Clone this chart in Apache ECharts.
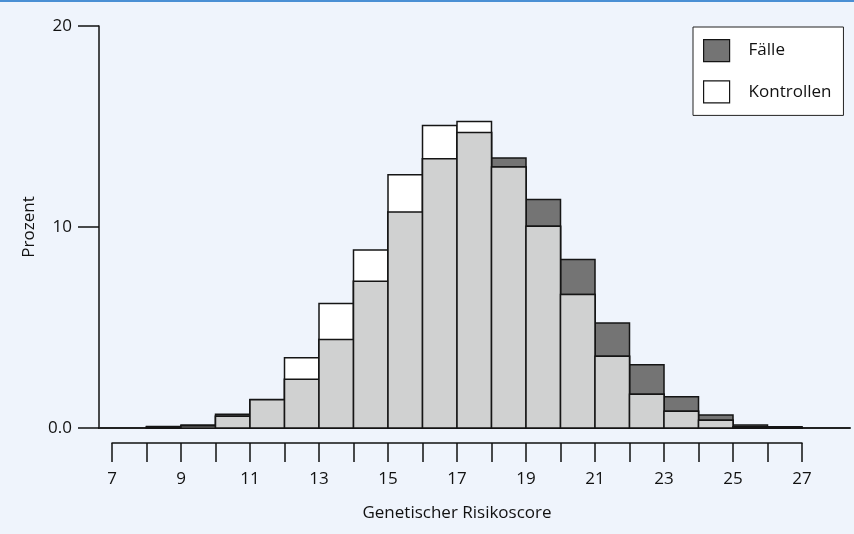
<!DOCTYPE html>
<html>
<head>
<meta charset="utf-8">
<script src="https://cdn.jsdelivr.net/npm/echarts@6/dist/echarts.min.js"></script>
<style>
html,body{margin:0;padding:0;background:#eff4fc;}
#chart{width:854px;height:534px;}
</style>
</head>
<body>
<div id="chart"></div>
<script>
// Histogram bins: lower edges of unit-wide bins of "Genetischer Risikoscore"
const binStarts = [7,8,9,10,11,12,13,14,15,16,17,18,19,20,21,22,23,24,25,26];
// Percent per bin
const faelle     = [0, 0.08, 0.15, 0.68, 1.40, 2.42, 4.40, 7.30, 10.75, 13.40, 14.70, 13.43, 11.37, 8.38, 5.23, 3.15, 1.56, 0.65, 0.15, 0.06];
const kontrollen = [0, 0.05, 0.10, 0.58, 1.42, 3.50, 6.20, 8.85, 12.60, 15.05, 15.25, 12.98, 10.04, 6.64, 3.57, 1.68, 0.83, 0.38, 0.06, 0.02];
const xTickLabels = ['7','9','11','13','15','17','19','21','23','25','27'];
const yTickLabels = {0:'0.0', 10:'10', 20:'20'};

const FONT = '"Open Sans", "Noto Sans", sans-serif';
const FS = 17;
const C_DARK = '#747474', C_LIGHT = '#d0d1d1', C_WHITE = '#ffffff', C_EDGE = '#151515';

function toData(vals){ return binStarts.map((s,i)=>[s, s+1, vals[i]]); }
const overlap = faelle.map((v,i)=>Math.min(v, kontrollen[i]));

function makeRender(fill){
  return function(params, api){
    const v = api.value(2);
    if (!(v > 0)) return;
    const p0 = api.coord([api.value(0), v]);
    const p1 = api.coord([api.value(1), 0]);
    return {
      type:'rect',
      shape:{x:p0[0], y:p0[1], width:p1[0]-p0[0], height:p1[1]-p0[1]},
      style:{fill:fill, stroke:C_EDGE, lineWidth:1.5}
    };
  };
}

const chart = echarts.init(document.getElementById('chart'), null, {renderer:'canvas'});
chart.setOption({
  backgroundColor:'#eff4fc',
  animation:false,
  textStyle:{fontFamily:FONT},
  graphic:[{type:'rect', left:0, top:0, shape:{width:854, height:2}, style:{fill:'#4a8fd4'}, silent:true}],
  legend:{
    orient:'vertical', left:693, top:27,
    padding:[12,12,12,10], itemGap:18,
    itemWidth:26, itemHeight:22, icon:'rect',
    backgroundColor:'#ffffff', borderColor:'#222', borderWidth:1,
    selectedMode:false,
    textStyle:{fontFamily:FONT, fontSize:FS, color:'#111', padding:[0,0,0,14]},
    data:[
      {name:'Fälle', itemStyle:{color:C_DARK, borderColor:C_EDGE, borderWidth:1.2}},
      {name:'Kontrollen', itemStyle:{color:C_WHITE, borderColor:C_EDGE, borderWidth:1.2}}
    ]
  },
  grid:[
    {left:99, right:4, top:26, bottom:106, containLabel:false},
    {left:112, right:52, top:300, bottom:91, containLabel:false}
  ],
  xAxis:[
    {type:'value', gridIndex:0, min:6.6232, max:28.391,
     axisLine:{show:true, onZero:false, lineStyle:{color:'#222', width:2}},
     axisTick:{show:false}, axisLabel:{show:false}, splitLine:{show:false}},
    {type:'value', gridIndex:1, min:7, max:27, interval:1,
     axisLine:{show:true, lineStyle:{color:'#111', width:1.5}},
     axisTick:{show:true, length:19, lineStyle:{color:'#111', width:1.5}},
     axisLabel:{margin:28, fontSize:FS, color:'#111', fontFamily:FONT,
       formatter:v=>xTickLabels.indexOf(String(v))>=0 ? String(v) : ''},
     splitLine:{show:false},
     name:'Genetischer Risikoscore', nameLocation:'middle', nameGap:62,
     nameTextStyle:{fontSize:FS, color:'#111', fontFamily:FONT}}
  ],
  yAxis:[
    {type:'value', gridIndex:0, min:0, max:20, interval:10,
     axisLine:{show:true, lineStyle:{color:'#111', width:1.5}},
     axisTick:{show:true, length:21, lineStyle:{color:'#111', width:1.5}},
     axisLabel:{margin:27, fontSize:FS, color:'#111', fontFamily:FONT,
       formatter:v=>yTickLabels[v] !== undefined ? yTickLabels[v] : ''},
     splitLine:{show:false},
     name:'Prozent', nameLocation:'middle', nameGap:61,
     nameTextStyle:{fontSize:FS, color:'#111', fontFamily:FONT}},
    {type:'value', gridIndex:1, show:false, min:0, max:1}
  ],
  series:[
    {name:'Fälle', type:'custom', xAxisIndex:0, yAxisIndex:0, renderItem:makeRender(C_DARK),
     itemStyle:{color:C_DARK}, encode:{x:[0,1], y:2}, data:toData(faelle), z:2},
    {name:'Kontrollen', type:'custom', xAxisIndex:0, yAxisIndex:0, renderItem:makeRender(C_WHITE),
     itemStyle:{color:C_WHITE}, encode:{x:[0,1], y:2}, data:toData(kontrollen), z:3},
    {name:'Überlappung', type:'custom', xAxisIndex:0, yAxisIndex:0, renderItem:makeRender(C_LIGHT),
     itemStyle:{color:C_LIGHT}, encode:{x:[0,1], y:2}, data:toData(overlap), z:4}
  ]
});
</script>
</body>
</html>
